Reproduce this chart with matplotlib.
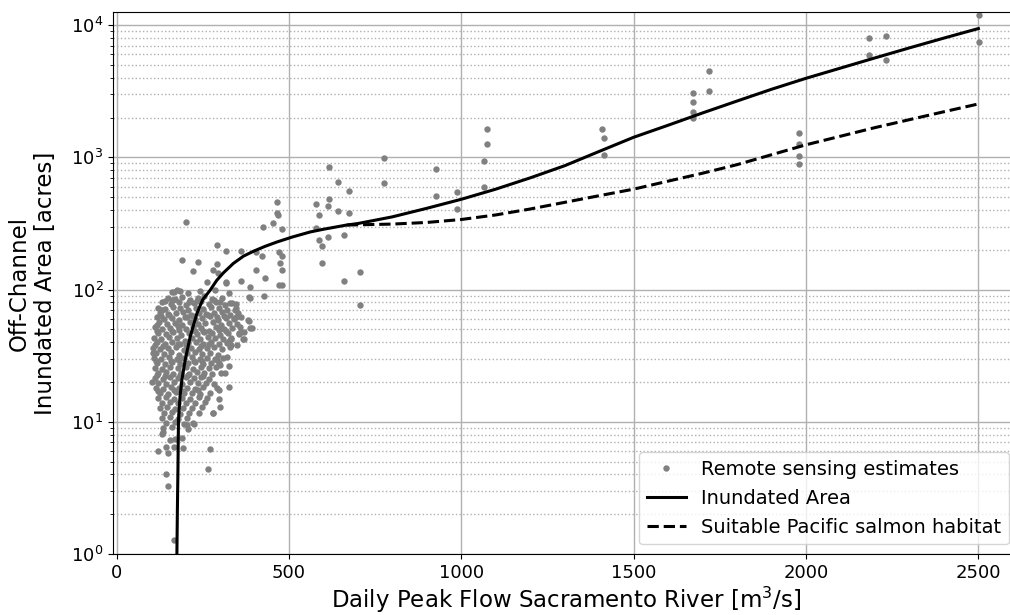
import matplotlib
matplotlib.use("Agg")
import matplotlib.pyplot as plt
import numpy as np

# fitted curves (flow m3/s, area acres)
curve_flow = [175, 176.4, 178, 179.6, 184, 189.4, 199, 213.5, 233, 250, 271.5,
              290, 310, 339, 368, 397, 430, 465, 510, 562, 600, 668, 700, 800,
              900, 1000, 1100, 1200, 1300, 1400, 1500, 1600, 1700, 1800, 1900,
              2000, 2100, 2200, 2300, 2400, 2500]
inundated = [1.0, 2.15, 4.3, 10.3, 15.5, 20.7, 29.3, 44, 66, 84, 99,
             117, 134, 158, 179, 195, 212, 229, 250, 273, 286, 308, 316, 355,
             412, 482, 575, 700, 865, 1109, 1419, 1750, 2168, 2667, 3273,
             3963, 4732, 5650, 6730, 7980, 9420]

habitat_flow = [668, 700, 800, 900, 1000, 1100, 1200, 1300, 1400, 1500, 1600,
                1700, 1800, 1900, 2000, 2100, 2200, 2300, 2400, 2500]
habitat = [308, 309, 313, 322, 339, 367, 407, 457, 513, 575, 661,
           759, 881, 1047, 1245, 1445, 1679, 1928, 2213, 2535]

# remote sensing estimates, high flows
high_flow = [465, 465, 468, 455, 424, 480, 480, 480, 480, 475, 470, 470,
             578, 615, 613, 588, 641, 673, 578, 588, 613, 597, 661, 597, 705,
             661, 705, 641, 673, 777, 615, 777, 926, 926, 988, 988, 1066,
             1074, 1074, 1066, 1408, 1415, 1415, 1673, 1673, 1673, 1673, 1719,
             1719, 1981, 1981, 1981, 1981, 2184, 2231, 2184, 2231, 2502, 2502]
high_area = [462, 378, 366, 321, 296, 287, 180, 141, 108, 160, 194, 108,
             444, 482, 429, 365, 393, 382, 291, 237, 251, 214, 259, 159, 135,
             117, 77, 655, 557, 644, 841, 985, 513, 817, 547, 405, 594,
             1640, 1262, 933, 1633, 1410, 1043, 3060, 2640, 2200, 1980, 4500,
             3180, 1538, 1256, 1025, 891, 8050, 8280, 5960, 5450, 11940, 7460]

# remote sensing estimates, low flows: edges of the cloud
edge_flow = [202, 291, 318, 360, 405, 423, 189, 235, 221, 292, 281, 293, 262,
             318, 431, 404, 429, 360, 386, 316, 383, 388, 325, 330, 347, 344,
             347, 383, 393, 360, 366, 354, 332, 332, 320, 301, 168, 160, 129,
             117, 107, 102, 381, 388, 354, 369, 349, 370, 325, 330, 325, 315,
             296, 325, 301, 281, 224, 205, 136, 131, 155, 170, 189, 192, 167,
             144, 120, 148, 270, 265, 144, 148, 168, 175, 131, 161, 184, 208,
             243, 286]
edge_area = [326, 217, 196, 196, 194, 180, 167, 163, 139, 156, 141, 134, 115,
             115, 122, 141, 90, 117, 105, 113, 88, 86, 94, 79, 78, 70,
             62, 58, 51, 48, 42, 46, 42, 38, 31, 27, 96, 83, 70,
             54, 33, 20.1, 59, 51.5, 47, 48, 38, 42, 41, 37, 26.4, 23.3,
             17.4, 18.4, 13, 11.7, 9.7, 9.4, 8.4, 8.1, 7.3, 7.4, 7.5, 6.3, 6.5,
             6.5, 6.0, 5.8, 6.2, 4.4, 4.0, 3.3, 1.28, 99, 70, 96, 98, 95,
             97, 99]

# remote sensing estimates, low flows: dense core of the cloud
core_flow = [150, 170, 190, 214, 237, 254, 277, 306,
             132, 158, 182, 202, 225, 245, 269, 289, 315, 335,
             121, 141, 164, 184, 208, 231, 251, 274, 298, 321, 347,
             126, 150, 173, 193, 216, 240, 260, 283, 306, 330, 353,
             118, 138, 161, 182, 205, 228, 248, 272, 295, 318, 341, 361,
             124, 147, 170, 190, 214, 237, 257, 280, 303, 327, 350,
             112, 132, 155, 179, 202, 222, 245, 269, 289, 312, 335, 359,
             121, 144, 164, 187, 211, 234, 254, 277, 301, 324,
             109, 129, 153, 176, 199, 219, 243, 266, 286, 309, 332,
             118, 141, 161, 184, 208, 231, 251, 274, 298, 321,
             106, 126, 150, 173, 196, 216, 240, 263, 283, 306,
             115, 138, 158, 182, 205, 228, 248, 272, 295,
             109, 129, 153, 176, 196, 219, 243, 263, 286, 309,
             118, 141, 161, 184, 208, 228, 251, 274, 298,
             112, 132, 155, 179, 202, 222, 245, 269, 289,
             121, 144, 164, 187, 211, 234, 254, 277, 303,
             112, 135, 155, 179, 202, 225, 245, 269,
             121, 144, 167, 190, 214, 237, 260, 283,
             115, 135, 158, 182, 205, 228, 251, 292,
             126, 150, 173, 196, 219, 243, 272,
             121, 144, 167, 190, 214, 240, 263, 298,
             132, 155, 179, 202, 228, 257,
             126, 147, 170, 193, 219, 248,
             138, 161, 184, 211, 240, 280,
             132, 155, 179, 205,
             144, 170, 196, 222,
             135, 161, 208,
             # in-between points of the densest part
             140, 165, 210, 232, 282, 300,
             130, 152, 199, 222, 266, 290, 312,
             116, 160, 182, 228, 250, 296, 318,
             112, 135, 178, 200, 246, 268,
             114, 158, 180, 225, 247, 292,
             117, 140, 184, 207, 252,
             120, 168, 190, 236]
core_area = [87, 85, 88, 84, 86, 89, 85, 87,
             80, 78, 81, 77, 79, 82, 78, 80, 77, 79,
             73, 71, 74, 72, 70, 73, 71, 74, 72, 70, 73,
             67, 65, 66, 68, 64, 67, 65, 66, 68, 64, 66,
             62, 60, 61, 59, 62, 60, 61, 63, 59, 61, 60, 62,
             57, 55, 56, 54, 57, 55, 56, 57, 54, 56, 55,
             52, 50, 51, 53, 50, 52, 51, 49, 52, 50, 51, 52,
             47, 46, 48, 45, 47, 46, 48, 47, 45, 47,
             43, 42, 44, 43, 41, 43, 42, 44, 43, 42, 43,
             40, 39, 40.5, 38.5, 39.5, 40, 39, 40.5, 38.5, 39.5,
             36.5, 35.5, 36, 37, 35, 36.5, 35.5, 36, 37, 35.5,
             33, 32.5, 33.5, 32, 33, 34, 32.5, 33, 32,
             30.5, 30, 31, 29.8, 30.4, 31, 30, 30.6, 29.8, 30.5,
             28, 27.5, 28.3, 27.6, 28, 28.4, 27.5, 28, 27.8,
             25.6, 25.2, 26, 25.4, 25.8, 25.2, 26, 25.5, 25.8,
             23.4, 23.8, 23, 23.6, 23.2, 23.8, 23.4, 23, 23.6,
             21.5, 21.2, 21.8, 21.3, 21.7, 21.4, 21.8, 21.2,
             19.7, 19.4, 20, 19.5, 19.9, 19.6, 19.8, 19.5,
             18, 17.8, 18.2, 17.9, 18.1, 17.7, 18.2, 18,
             16.5, 16.3, 16.7, 16.4, 16.6, 16.3, 16.5,
             15.1, 15.3, 15, 15.2, 15, 15.3, 15.1, 15,
             13.9, 14.1, 13.8, 14, 13.9, 14.1,
             12.7, 12.9, 12.6, 12.8, 12.7, 12.9,
             11.6, 11.8, 11.5, 11.7, 11.6, 11.7,
             10.7, 10.8, 10.6, 10.7,
             9.8, 9.9, 9.7, 9.8,
             9.0, 9.1, 8.9,
             82, 83, 81, 82, 83, 81,
             63, 64, 62, 63, 64, 62, 63,
             49, 48.5, 49.5, 49, 48.5, 49.5, 49,
             38, 37.5, 38.5, 38, 37.5, 38.5,
             29, 28.7, 29.3, 29, 28.7, 29.3,
             22.5, 22.2, 22.8, 22.5, 22.2,
             17.2, 17.4, 17.1, 17.3]

obs_flow = np.array(high_flow + edge_flow + core_flow)
obs_area = np.array(high_area + edge_area + core_area)

fig = plt.figure(figsize=(10.1, 6.15), dpi=100)
ax = fig.add_subplot(111)
# right edge of the axes falls just outside the picture, as in the original
fig.subplots_adjust(left=0.112, right=1.009, top=0.980, bottom=0.099)

ax.plot(obs_flow, obs_area, "o", color="gray", markersize=4.6, markeredgewidth=0,
        label="Remote sensing estimates", zorder=2)
ax.plot(curve_flow, inundated, "k-", lw=2.2, label="Inundated Area", zorder=3)
ax.plot(habitat_flow, habitat, "k--", lw=2.2, label="Suitable Pacific salmon habitat", zorder=3)

ax.set_yscale("log")
ax.set_xlim(-10, 2618)
ax.set_ylim(1, 12500)

ax.grid(True, which="major", color="#b0b0b0", lw=1.0)
ax.grid(True, which="minor", axis="y", color="#b0b0b0", ls=":", lw=1.0)
ax.set_axisbelow(True)

ax.tick_params(labelsize=13)
ax.set_xlabel("Daily Peak Flow Sacramento River [m$^3$/s]", fontsize=16.5, labelpad=2)
ax.set_ylabel("Off-Channel\nInundated Area [acres]", fontsize=16.5, labelpad=10)

ax.legend(loc="lower right", fontsize=14, numpoints=1)

fig.savefig("out.png", dpi=100)
